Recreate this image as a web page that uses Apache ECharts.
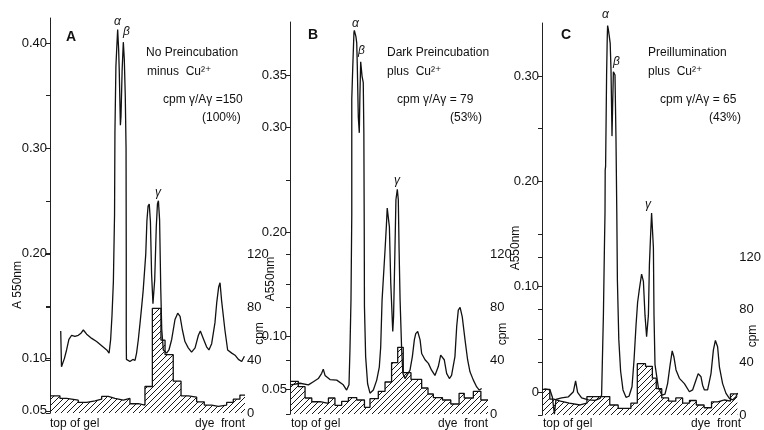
<!DOCTYPE html>
<html>
<head>
<meta charset="utf-8"/>
<title>A550 / cpm gel scans</title>
<script src="https://cdn.jsdelivr.net/npm/echarts@6/dist/echarts.min.js"></script>
<style>
  html, body { margin: 0; padding: 0; background: #fff; }
  #chart { width: 764px; height: 430px; }
</style>
</head>
<body>
<div id="chart"></div>
<script>
// x = position along the gel, 0 = top of gel, 100 = dye front
// A550 scans [x, absorbance]
var absA = [[5.5,0.126],[5.9,0.092],[6.4,0.093],[7.4,0.100],[8.5,0.108],[9.7,0.118],[11.1,0.122],[12.8,0.121],[14.5,0.122],[15.9,0.124],[17.1,0.127],[18.8,0.123],[21.4,0.119],[23.9,0.116],[26.5,0.112],[29.1,0.108],[30.3,0.105],[31.1,0.118],[31.8,0.141],[32.5,0.173],[33.1,0.237],[33.3,0.315],[33.8,0.378],[34.2,0.394],[34.7,0.413],[35.2,0.394],[35.5,0.375],[36.1,0.322],[36.4,0.330],[37.0,0.375],[37.6,0.401],[38.1,0.385],[38.6,0.350],[39.0,0.300],[39.1,0.200],[39.1,0.120],[39.2,0.099],[41.0,0.097],[42.5,0.099],[43.6,0.098],[44.4,0.105],[45.3,0.118],[46.2,0.134],[47.0,0.149],[47.8,0.165],[49.1,0.199],[49.7,0.231],[50.3,0.245],[50.9,0.247],[51.5,0.230],[52.1,0.180],[52.8,0.152],[53.7,0.175],[54.5,0.225],[55.1,0.247],[55.6,0.250],[56.2,0.232],[56.8,0.166],[57.3,0.128],[58.1,0.108],[59.8,0.105],[61.0,0.108],[62.4,0.118],[64.1,0.137],[65.5,0.143],[66.7,0.140],[67.9,0.127],[69.2,0.116],[70.9,0.110],[72.6,0.106],[74.4,0.110],[76.1,0.122],[77.1,0.126],[78.6,0.119],[80.3,0.111],[81.5,0.108],[82.9,0.114],[84.6,0.134],[85.5,0.153],[86.5,0.168],[87.2,0.172],[88.0,0.155],[89.7,0.127],[91.1,0.108],[93.2,0.105],[94.9,0.103],[96.6,0.099],[98.3,0.097],[99.7,0.102]];
var absB = [[0.5,0.054],[5.1,0.0555],[9.3,0.054],[11.8,0.057],[14.3,0.060],[16.0,0.065],[16.8,0.069],[17.7,0.063],[20.2,0.059],[23.6,0.0585],[26.9,0.054],[28.6,0.049],[29.8,0.054],[30.3,0.089],[30.8,0.135],[31.2,0.217],[31.2,0.327],[31.7,0.358],[32.3,0.391],[32.5,0.393],[33.3,0.387],[33.7,0.381],[34.0,0.358],[34.5,0.310],[35.0,0.295],[35.3,0.330],[35.7,0.363],[36.4,0.349],[37.0,0.343],[37.3,0.295],[37.5,0.200],[37.6,0.129],[38.2,0.081],[39.2,0.055],[40.4,0.046],[42.1,0.049],[43.8,0.0585],[45.1,0.071],[45.8,0.090],[46.5,0.135],[48.0,0.183],[48.7,0.207],[49.1,0.223],[50.2,0.205],[50.9,0.151],[51.9,0.105],[52.3,0.119],[53.0,0.183],[53.5,0.231],[54.2,0.241],[54.7,0.231],[55.1,0.183],[55.6,0.135],[56.4,0.087],[57.0,0.065],[58.1,0.060],[58.9,0.059],[60.6,0.068],[61.8,0.081],[62.8,0.097],[63.5,0.103],[64.5,0.105],[65.7,0.097],[66.5,0.084],[68.2,0.078],[69.9,0.0745],[71.5,0.068],[73.2,0.063],[74.9,0.0715],[76.1,0.0825],[76.9,0.084],[77.9,0.078],[79.1,0.065],[80.5,0.060],[81.6,0.063],[83.3,0.081],[84.2,0.110],[85.0,0.1255],[85.9,0.128],[87.0,0.119],[88.4,0.097],[89.7,0.078],[90.9,0.0665],[92.6,0.0585],[94.3,0.052],[95.6,0.049],[96.8,0.0505]];
var absC = [[1.2,0.003],[4.0,0.002],[5.2,-0.005],[6.2,-0.021],[7.0,-0.007],[9.8,-0.0055],[13.2,-0.0045],[15.7,0.0003],[16.8,0.0105],[17.8,-0.0003],[19.8,-0.0055],[23.2,-0.0075],[26.5,-0.008],[29.0,-0.006],[29.8,-0.003],[30.7,0.073],[31.2,0.136],[31.5,0.170],[31.6,0.211],[31.8,0.214],[32.3,0.301],[32.6,0.334],[32.8,0.348],[33.2,0.344],[33.7,0.337],[34.1,0.331],[34.5,0.306],[35.0,0.243],[35.3,0.270],[35.7,0.304],[36.5,0.301],[37.0,0.239],[37.4,0.170],[37.7,0.106],[38.4,0.050],[39.3,0.020],[40.5,0.002],[42.0,-0.005],[43.5,-0.004],[45.0,0.005],[46.0,0.030],[47.0,0.063],[47.8,0.085],[48.7,0.098],[49.8,0.112],[50.7,0.105],[51.5,0.073],[52.3,0.0525],[53.2,0.073],[53.7,0.121],[54.3,0.149],[54.8,0.170],[55.7,0.137],[56.0,0.073],[56.5,0.026],[58.2,0.004],[60.0,-0.003],[61.5,-0.002],[62.8,0.008],[64.0,0.025],[65.1,0.039],[66.0,0.033],[67.0,0.021],[68.7,0.013],[71.2,0.008],[73.7,0.0003],[75.3,0.002],[77.0,0.0115],[78.1,0.0175],[79.5,0.0145],[80.3,0.0065],[81.2,0.002],[82.8,0.002],[84.5,0.0175],[85.7,0.040],[86.7,0.049],[87.8,0.043],[88.7,0.024],[90.3,0.008],[92.0,-0.0013],[93.7,-0.006],[95.3,-0.0075],[97.0,-0.0045],[97.8,-0.001]];

// radioactivity per gel slice [slice start x, cpm]; last point closes the final slice
var cpmA = [[0,13],[5.1,11],[8.5,9.7],[14.5,8],[18.8,9.2],[23.1,10.4],[26.5,12.5],[29.9,11],[33.3,9.7],[37.6,11],[41.0,7],[45.3,6],[48.7,20],[52.5,79],[56.9,55],[59.0,44],[63.2,24],[67.2,13],[70.9,12],[75.2,8.4],[79.1,6],[82.9,5],[86.3,6],[90.6,8],[94.0,10.4],[97.4,13.5],[100,13.5]];
var cpmB = [[0,24.5],[4.2,20.5],[7.6,12],[11.0,9.2],[15.2,8],[19.4,12],[22.7,6.5],[26.1,9.5],[29.5,12.3],[33.7,10.5],[37.6,5],[40.4,11.5],[44.6,17],[48.0,24],[51.3,38.5],[54.4,50],[57.2,31],[61.1,26],[66.5,19.5],[69.7,15],[72.4,12.3],[77.0,10.5],[81.2,7.5],[85.4,15.5],[88.0,12],[92.6,17],[96.4,10.5],[100,10.5]];
var cpmC = [[0,19.5],[4.0,12],[6.0,10.5],[9.5,9],[14.0,7.6],[19.5,9],[23.0,14],[34.7,7.6],[39.0,5],[45.5,9],[48.8,39],[53.0,37],[56.5,28],[58.5,20],[61.3,13],[64.8,10.5],[68.5,13],[72.0,9],[75.5,11],[79.0,7.6],[83.0,5.5],[86.8,10],[90.0,11.4],[93.5,10.5],[96.5,16],[100,16]];

// tick marks and labels
var ticksA = [0.05,0.10,0.15,0.20,0.25,0.30,0.35,0.40];
var labelsA = [0.05,0.10,0.20,0.30,0.40];
var ticksB = [0.05,0.10,0.15,0.20,0.25,0.30,0.35];
var labelsB = [0.05,0.10,0.20,0.30,0.35];
var ticksC = [0,0.05,0.10,0.15,0.20,0.25,0.30];
var labelsC = [0,0.10,0.20,0.30];
var cpmTicks = [0,40,80,120];

var FONT = '"Liberation Sans", "DejaVu Sans", sans-serif';

function hatch() {
	var c = document.createElement('canvas');
	c.width = 6; c.height = 6;
	var g = c.getContext('2d');
	g.strokeStyle = '#1a1a1a';
	g.lineWidth = 1;
	g.beginPath();
	g.moveTo(0, 6); g.lineTo(6, 0);
	g.moveTo(-1, 1); g.lineTo(1, -1);
	g.moveTo(5, 7); g.lineTo(7, 5);
	g.stroke();
	return c;
}
var hatchImg = hatch();

var panels = [
	{abs: absA, cpm: cpmA, ticks: ticksA, labels: labelsA, left: 50, width: 195, top: 18, bottom: 413, min: 0.048, max: 0.424, cpmTop: 254},
	{abs: absB, cpm: cpmB, ticks: ticksB, labels: labelsB, left: 290, width: 198, top: 22, bottom: 414, min: 0.0261, max: 0.401, cpmTop: 254},
	{abs: absC, cpm: cpmC, ticks: ticksC, labels: labelsC, left: 542, width: 200, top: 23, bottom: 415, min: -0.0218, max: 0.3504, cpmTop: 257}
];

var grid = [], xAxis = [], yAxis = [], series = [];
panels.forEach(function (p, i) {
	grid.push({left: p.left, width: p.width, top: p.top, height: p.bottom - p.top});
	grid.push({left: p.left, width: p.width, top: p.cpmTop, height: p.bottom - p.cpmTop});
	xAxis.push({type: 'value', gridIndex: 2 * i, min: 0, max: 100, show: false});
	xAxis.push({type: 'value', gridIndex: 2 * i + 1, min: 0, max: 100, show: false});
	yAxis.push({
		type: 'value', gridIndex: 2 * i, min: p.min, max: p.max, position: 'left',
		axisLine: {show: true, lineStyle: {color: '#222', width: 1}},
		axisTick: {show: true, length: 4, customValues: p.ticks, lineStyle: {color: '#222'}},
		axisLabel: {
			customValues: p.labels, margin: 3, color: '#111', fontSize: 13, fontFamily: FONT,
			formatter: function (v) { return Math.abs(v) < 1e-9 ? '0' : v.toFixed(2); }
		},
		splitLine: {show: false}
	});
	yAxis.push({
		type: 'value', gridIndex: 2 * i + 1, min: 0, max: 120, position: 'right',
		name: 'cpm', nameLocation: 'middle', nameRotate: 90, nameGap: 9, nameMoveOverlap: false,
		nameTextStyle: {color: '#111', fontSize: 12, fontFamily: FONT},
		axisLine: {show: true, lineStyle: {color: '#222', width: 1}},
		axisTick: {show: true, inside: true, length: 4, customValues: cpmTicks, lineStyle: {color: '#222'}},
		axisLabel: {customValues: cpmTicks, margin: 2, color: '#111', fontSize: 13, fontFamily: FONT},
		splitLine: {show: false}
	});
	series.push({
		type: 'line', xAxisIndex: 2 * i + 1, yAxisIndex: 2 * i + 1,
		data: p.cpm, step: 'end', symbol: 'none', z: 2,
		lineStyle: {color: '#111', width: 1.3},
		areaStyle: {color: {image: hatchImg, repeat: 'repeat'}, opacity: 1}
	});
	series.push({
		type: 'line', xAxisIndex: 2 * i, yAxisIndex: 2 * i,
		data: p.abs, symbol: 'none', z: 3,
		lineStyle: {color: '#111', width: 1.3}
	});
});

function txt(x, y, s, size, extra) {
	var o = {type: 'text', x: x, y: y, z: 10, style: {text: s, fill: '#111', font: size + 'px ' + FONT, align: 'left', verticalAlign: 'middle'}};
	if (extra) { for (var k in extra) { if (k === 'rotation') o.rotation = extra[k]; else o.style[k] = extra[k]; } }
	return o;
}

var graphics = [
	txt(66, 37, 'A', 14, {font: 'bold 14px ' + FONT}),
	txt(308, 35, 'B', 14, {font: 'bold 14px ' + FONT}),
	txt(561, 35, 'C', 14, {font: 'bold 14px ' + FONT}),
	txt(114, 22, 'α', 12, {font: 'italic 12px ' + FONT}),
	txt(123, 32, 'β', 12, {font: 'italic 12px ' + FONT}),
	txt(155, 193, 'γ', 12, {font: 'italic 12px ' + FONT}),
	txt(352, 24, 'α', 12, {font: 'italic 12px ' + FONT}),
	txt(358, 51, 'β', 12, {font: 'italic 12px ' + FONT}),
	txt(394, 181, 'γ', 12, {font: 'italic 12px ' + FONT}),
	txt(602, 15, 'α', 12, {font: 'italic 12px ' + FONT}),
	txt(613, 62, 'β', 12, {font: 'italic 12px ' + FONT}),
	txt(645, 205, 'γ', 12, {font: 'italic 12px ' + FONT}),
	txt(146, 53, 'No Preincubation', 12),
	txt(147, 72, 'minus  Cu²⁺', 12),
	txt(163, 100, 'cpm γ/Aγ =150', 12),
	txt(202, 118, '(100%)', 12),
	txt(387, 53, 'Dark Preincubation', 12),
	txt(387, 72, 'plus  Cu²⁺', 12),
	txt(397, 100, 'cpm γ/Aγ = 79', 12),
	txt(450, 118, '(53%)', 12),
	txt(648, 53, 'Preillumination', 12),
	txt(648, 72, 'plus  Cu²⁺', 12),
	txt(660, 100, 'cpm γ/Aγ = 65', 12),
	txt(709, 118, '(43%)', 12),
	txt(18, 285, 'A 550nm', 12, {align: 'center', rotation: Math.PI / 2}),
	txt(271, 279, 'A550nm', 12, {align: 'center', rotation: Math.PI / 2}),
	txt(516, 248, 'A550nm', 12, {align: 'center', rotation: Math.PI / 2}),
	txt(50, 424, 'top of gel', 12),
	txt(245, 424, 'dye  front', 12, {align: 'right'}),
	txt(291, 424, 'top of gel', 12),
	txt(488, 424, 'dye  front', 12, {align: 'right'}),
	txt(543, 424, 'top of gel', 12),
	txt(741, 424, 'dye  front', 12, {align: 'right'})
];

var chart = echarts.init(document.getElementById('chart'), null, {renderer: 'canvas'});
chart.setOption({
	animation: false,
	backgroundColor: '#fff',
	grid: grid,
	xAxis: xAxis,
	yAxis: yAxis,
	series: series,
	graphic: graphics
});
</script>
</body>
</html>
